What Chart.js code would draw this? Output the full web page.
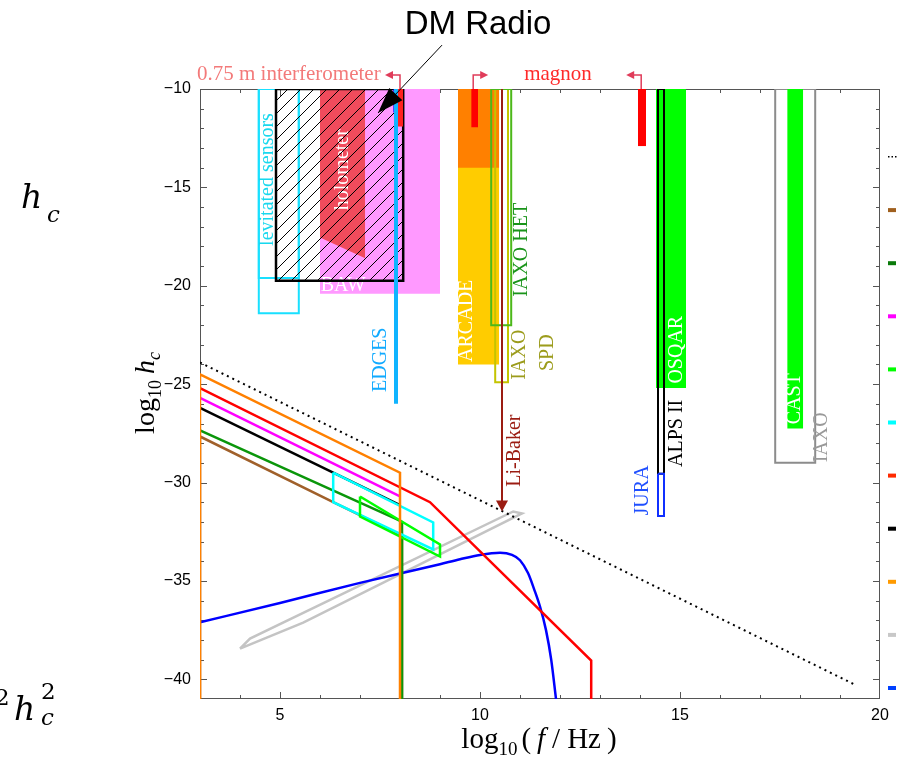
<!DOCTYPE html>
<html lang="en">
<head>
<meta charset="UTF-8">
<title>Characteristic strain sensitivities</title>
<script src="https://cdn.jsdelivr.net/npm/chart.js"></script>
<style>
  body { margin: 0; background: #fff; overflow: hidden; }
  #wrap { position: relative; width: 899px; height: 758px; overflow: hidden; }
  #chart { position: absolute; left: 0; top: 0; }
  .side { position: absolute; font-family: "DejaVu Serif", serif; font-style: italic; color: #000; line-height: 1; white-space: nowrap; }
</style>
</head>
<body>
<div id="wrap">
  <canvas id="chart" width="899" height="758"></canvas>
  <span class="side" style="left:21px;top:180px;font-size:33px">h</span>
  <span class="side" style="left:47px;top:203px;font-size:23px">c</span>
  <span class="side" style="left:-5px;top:686px;font-size:23px;font-style:normal">2</span>
  <span class="side" style="left:14px;top:692px;font-size:33px">h</span>
  <span class="side" style="left:41px;top:680px;font-size:23px;font-style:normal">2</span>
  <span class="side" style="left:41px;top:706px;font-size:23px">c</span>
</div>
<script>
// axes: x = log10(f/Hz), y = log10 h_c
const xTicks = [5, 10, 15, 20];
const yTicks = [-10, -15, -20, -25, -30, -35, -40];

// experiments reaching up to h_c = 1e-10: [fMin, fMax, hcMin] (outline ones may carry an hcMax)
const levitatedA = [4.47, 5.47, -19.6];
const levitatedB = [4.47, 5.47, -21.4];
const baw = [6.0, 9.0, -20.4];
const holometer = [[6.0, -17.55], [7.13, -18.6]];
const dmRadio = [4.9, 8.08, -19.75];
const interfBlue = [7.83, 7.95, -11.2];
const interfRed = [7.95, 8.08, -11.9];
const edges = [[7.9, -10], [7.9, -26.0]];
const arcadeLow = [9.45, 10.48, -24.0];
const arcadeHigh = [9.45, 10.48, -14.0];
const magnonA = [9.78, 9.95, -11.95];
const magnonB = [13.95, 14.15, -12.9];
const iaxoSpd = [10.38, 10.7, -24.9];
const iaxoHet = [10.28, 10.78, -22.0];
const liBaker = [[10.55, -10], [10.55, -31.0]];
const osqar = [14.4, 15.15, -25.2];
const alps = [14.45, 14.6, -29.55];
const jura = [14.45, 14.6, -31.7, -29.55];
const iaxo = [17.38, 18.38, -29.0];
const cast = [17.68, 18.08, -27.25];

// broadband sensitivity curves
const grayCurve = [[4.0, -38.44], [4.25, -37.93], [10.83, -31.47], [11.05, -31.57], [5.58, -37.12], [4.0, -38.44]];
const blueCurve = [[3, -37.1], [5, -36.12], [7, -35.1], [9, -34.15], [9.5, -33.9], [10, -33.68], [10.5, -33.57],
                   [10.8, -33.68], [11.0, -33.95], [11.2, -34.6], [11.35, -35.4], [11.5, -36.3], [11.65, -37.5], [11.78, -39.0], [11.9, -41]];
const brownCurve = [[3, -41], [3, -27.66], [6.33, -31.0], [8.05, -32.7], [8.05, -41]];
const darkGreenCurve = [[3, -27.35], [7.9, -31.85], [8.05, -32.0], [8.05, -41]];
const blackCurve = [[3, -26.2], [8.0, -31.15]];
const cyanBox = [[6.33, -29.49], [8.83, -32.03], [8.83, -33.4], [6.33, -31.0], [6.33, -29.49]];
const greenBox = [[7.0, -30.71], [9.0, -33.15], [9.0, -33.76], [7.0, -31.73], [7.0, -30.71]];
const magentaCurve = [[3, -25.7], [8.0, -30.7]];
const redCurve = [[3, -25.2], [8.75, -31.0], [12.78, -39.05], [12.78, -41]];
const orangeCurve = [[3, -41], [3, -24.5], [8.0, -29.5], [8.0, -41]];
const dottedCurve = [[3, -23.9], [19.4, -40.3]];

const legendColors = ['dots', '#a0601e', '#0a7a0a', '#ff00ff', '#00ff00', '#00ffff', '#ff2a00', '#000000', '#ff9a00', '#c8c8c8', '#0040ff'];

// text labels: [text, x, y, colour, rotated, under the DM Radio hatching]
const labels = [
  ['levitated sensors', 4.7, -14.6, '#18d8ee', true, true],
  ['holometer', 6.58, -14.1, '#ffffff', true, true],
  ['BAW', 6.58, -20.0, '#ffffff', false, true],
  ['EDGES', 7.53, -23.76, '#10aaff', true, false],
  ['ARCADE', 9.68, -21.78, '#ffffff', true, false],
  ['IAXO HET', 11.05, -18.17, '#1a941a', true, false],
  ['IAXO', 11.0, -23.5, '#9c9c1c', true, false],
  ['SPD', 11.7, -23.4, '#9c9c1c', true, false],
  ['Li-Baker', 10.88, -28.38, '#9b1c12', true, false],
  ['OSQAR', 14.93, -23.25, '#ffffff', true, false],
  ['ALPS II', 14.93, -27.5, '#000000', true, false],
  ['JURA', 14.08, -30.4, '#1f4fff', true, false],
  ['CAST', 17.88, -25.74, '#ffffff', true, false],
  ['IAXO', 18.55, -27.7, '#999999', true, false]
];
const arrowFeet = [[8.0, -1], [9.83, 1], [14.03, -1]];

const ctx = document.getElementById('chart').getContext('2d');

const hatch = (() => {
  const c = document.createElement('canvas');
  c.width = 13; c.height = 13;
  const g = c.getContext('2d');
  g.strokeStyle = '#000'; g.lineWidth = 1;
  g.beginPath();
  for (const o of [-13, 0, 13]) { g.moveTo(o, 13); g.lineTo(o + 13, 0); }
  g.stroke();
  return ctx.createPattern(c, 'repeat');
})();

const pts = arr => arr.map(([x, y]) => ({x, y}));
const datasets = [];
function band(r, color) {
  datasets.push({ data: [{x: r[0], y: r[2]}, {x: r[1], y: r[2]}], fill: 'end', backgroundColor: color,
    borderColor: 'rgba(0,0,0,0)', borderWidth: 0, pointRadius: 0 });
}
function poly(arr, color, width, extra) {
  datasets.push(Object.assign({ data: pts(arr), fill: false, borderColor: color, borderWidth: width, pointRadius: 0 }, extra || {}));
}
function rect(r, color, width) {
  const [a, b, lo] = r;
  const hi = r.length > 3 ? r[3] : -10;
  poly([[a, hi], [a, lo], [b, lo], [b, hi], [a, hi]], color, width);
}

rect(levitatedA, '#19e0ff', 2);
rect(levitatedB, '#19e0ff', 2);
band(baw, '#ff99ff');
datasets.push({ data: pts(holometer), fill: 'end', backgroundColor: '#f04b5c', borderColor: 'rgba(0,0,0,0)', borderWidth: 0, pointRadius: 0 });
const underIndex = datasets.length - 1;
band(dmRadio, hatch);
rect(dmRadio, '#000', 2.5);
band(interfBlue, '#0000ff');
band(interfRed, '#ff2020');
poly(edges, '#10b4ff', 4);
band(arcadeLow, '#ffcc00');
band(arcadeHigh, '#ff8000');
band(magnonA, '#ff0000');
band(magnonB, '#ff0000');
rect(iaxoSpd, '#c4c400', 2);
rect(iaxoHet, '#4cb81a', 2);
poly(liBaker, '#9b1c12', 2);
band(osqar, '#00ff00');
rect(alps, '#000', 2);
rect(jura, '#1030ff', 2);
rect(iaxo, '#8c8c8c', 2);
band(cast, '#00ff00');

poly(grayCurve, '#c4c4c4', 2.5);
poly(blueCurve, '#0000ff', 2.5, { cubicInterpolationMode: 'monotone' });
poly(brownCurve, '#a0602a', 2.5);
poly(darkGreenCurve, '#0a960a', 2.5);
poly(blackCurve, '#000', 2.5);
poly(cyanBox, '#00ffff', 2.5);
poly(greenBox, '#00ff00', 2.5);
poly(magentaCurve, '#ff00ff', 2.5);
poly(redCurve, '#ff0000', 2.5);
poly(orangeCurve, '#ff8000', 2.5);
poly(dottedCurve, '#000', 2, { borderDash: [2, 4] });

datasets.forEach((d, i) => { d.order = -i; });

function drawParts(c, parts, cx, cy) {
  let w = 0;
  for (const p of parts) { c.font = p.font; w += c.measureText(p.t).width + (p.gap || 0); }
  let x = cx - w / 2;
  c.textAlign = 'left'; c.textBaseline = 'alphabetic';
  for (const p of parts) {
    c.font = p.font; c.fillText(p.t, x, cy + (p.dy || 0));
    x += c.measureText(p.t).width + (p.gap || 0);
  }
}

function arrowHead(c, x, y, ang, len, half) {
  c.save();
  c.translate(x, y); c.rotate(ang);
  c.beginPath(); c.moveTo(0, 0); c.lineTo(-len, -half); c.lineTo(-len, half); c.closePath(); c.fill();
  c.restore();
}

function drawLabels(chart, under) {
  const c = chart.ctx, sx = chart.scales.x, sy = chart.scales.y;
  c.save();
  c.font = '20px "Liberation Serif", serif';
  c.textAlign = 'center'; c.textBaseline = 'middle';
  for (const [t, x, y, col, rot, u] of labels) {
    if (u !== under) continue;
    c.save();
    c.fillStyle = col;
    c.translate(sx.getPixelForValue(x), sy.getPixelForValue(y));
    if (rot) c.rotate(-Math.PI / 2);
    c.fillText(t, 0, 0);
    c.restore();
  }
  c.restore();
}

const SERIF = '"Liberation Serif", serif';

const decor = {
  id: 'decor',
  beforeDatasetsDraw(chart) {
    // frame with inward ticks, under the curves
    const c = chart.ctx, sx = chart.scales.x, sy = chart.scales.y, a = chart.chartArea;
    c.save();
    c.strokeStyle = '#555'; c.lineWidth = 1;
    c.strokeRect(a.left + 0.5, a.top + 0.5, a.width - 1, a.height - 1);
    c.beginPath();
    for (let v = Math.ceil(sx.min) + 1; v < sx.max; v++) {
      const p = Math.round(sx.getPixelForValue(v)) + 0.5, L = v % 5 === 0 ? 7 : 4;
      c.moveTo(p, a.bottom); c.lineTo(p, a.bottom - L);
      c.moveTo(p, a.top); c.lineTo(p, a.top + L);
    }
    for (let v = Math.ceil(sy.min) + 1; v < sy.max; v++) {
      const p = Math.round(sy.getPixelForValue(v)) + 0.5, L = v % 5 === 0 ? 7 : 4;
      c.moveTo(a.left, p); c.lineTo(a.left + L, p);
      c.moveTo(a.right, p); c.lineTo(a.right - L, p);
    }
    c.stroke();
    c.restore();
  },
  afterDatasetDraw(chart, args) {
    if (args.index === underIndex) drawLabels(chart, true);
  },
  afterDatasetsDraw(chart) {
    const c = chart.ctx, sx = chart.scales.x, sy = chart.scales.y, a = chart.chartArea;
    const X = v => sx.getPixelForValue(v), Y = v => sy.getPixelForValue(v);
    drawLabels(chart, false);
    c.save();
    // Li-Baker arrow head
    c.fillStyle = '#9b1c12';
    arrowHead(c, X(liBaker[1][0]), Y(-31.47), Math.PI / 2, 11, 6);

    // interferometer / magnon bracket arrows above the frame
    c.strokeStyle = '#e03c5a'; c.fillStyle = '#e03c5a'; c.lineWidth = 1.5;
    for (const [x, dir] of arrowFeet) {
      const p = X(x), top = a.top - 14;
      c.beginPath(); c.moveTo(p, a.top); c.lineTo(p, top); c.lineTo(p + dir * 8, top); c.stroke();
      arrowHead(c, p + dir * 15, top, dir > 0 ? 0 : Math.PI, 8, 4);
    }
    c.textAlign = 'center'; c.textBaseline = 'alphabetic';
    c.font = '21px ' + SERIF;
    c.fillStyle = '#f37a7a';
    c.fillText('0.75 m interferometer', X(5.22), a.top - 9);
    c.fillStyle = '#ff2a2a';
    c.fillText('magnon', X(11.95), a.top - 9);

    // DM Radio callout
    c.fillStyle = '#000'; c.strokeStyle = '#000'; c.lineWidth = 1;
    const tx = X(7.45), ty = Y(-11.22), fx = X(9.05), fy = Y(-7.77);
    c.beginPath(); c.moveTo(fx, fy); c.lineTo(tx, ty); c.stroke();
    arrowHead(c, tx, ty, Math.atan2(ty - fy, tx - fx), 26, 9);
    c.font = '33px "Liberation Sans", Arial, sans-serif';
    c.textBaseline = 'middle';
    c.fillText('DM Radio', X(9.95), 25);

    // legend swatches (labels lie outside the picture)
    legendColors.forEach((col, i) => {
      const yy = 157 + i * 53.1;
      if (col === 'dots') {
        c.fillStyle = '#000';
        for (let k = 0; k < 3; k++) c.fillRect(888 + k * 3.5, yy - 1, 1.5, 1.5);
      } else {
        c.fillStyle = col;
        c.fillRect(888, yy - 2, 8, 4);
      }
    });

    // axis titles
    c.fillStyle = '#000';
    drawParts(c, [
      {t: 'log', font: '29px ' + SERIF},
      {t: '10', font: '19px ' + SERIF, dy: 7, gap: 4},
      {t: '(', font: '29px ' + SERIF, gap: 6},
      {t: 'f', font: 'italic 29px ' + SERIF, gap: 7},
      {t: '/', font: '29px ' + SERIF, gap: 7},
      {t: 'Hz', font: '29px ' + SERIF, gap: 6},
      {t: ')', font: '29px ' + SERIF}
    ], 539, 748);
    c.translate(154, 393);
    c.rotate(-Math.PI / 2);
    drawParts(c, [
      {t: 'log', font: '28px ' + SERIF},
      {t: '10', font: '18px ' + SERIF, dy: 7, gap: 6},
      {t: 'h', font: 'italic 28px ' + SERIF},
      {t: 'c', font: 'italic 18px ' + SERIF, dy: 6}
    ], 0, 0);
    c.restore();
  }
};

const fmt = v => (v < 0 ? '\u2212' + Math.abs(v) : String(v));

new Chart(ctx, {
  type: 'line',
  data: { datasets: datasets },
  options: {
    responsive: false,
    animation: false,
    devicePixelRatio: 1,
    layout: { padding: { left: 0, right: 19, top: 89, bottom: 0 } },
    plugins: { legend: { display: false }, tooltip: { enabled: false } },
    elements: { line: { tension: 0 } },
    scales: {
      x: {
        type: 'linear', min: 3, max: 20,
        grid: { display: false, drawTicks: false }, border: { display: false },
        afterBuildTicks: s => { s.ticks = xTicks.map(v => ({value: v})); },
        afterFit: s => { s.height = 59; },
        ticks: { callback: fmt, color: '#000', padding: 7, maxRotation: 0, autoSkip: false,
                 font: { family: '"Liberation Sans", Arial, sans-serif', size: 16 } }
      },
      y: {
        type: 'linear', min: -41, max: -10,
        grid: { display: false, drawTicks: false }, border: { display: false },
        afterBuildTicks: s => { s.ticks = yTicks.map(v => ({value: v})); },
        afterFit: s => { s.width = 200; },
        ticks: { callback: fmt, color: '#000', padding: 9, autoSkip: false,
                 font: { family: '"Liberation Sans", Arial, sans-serif', size: 16 } }
      }
    }
  },
  plugins: [decor]
});
</script>
</body>
</html>
